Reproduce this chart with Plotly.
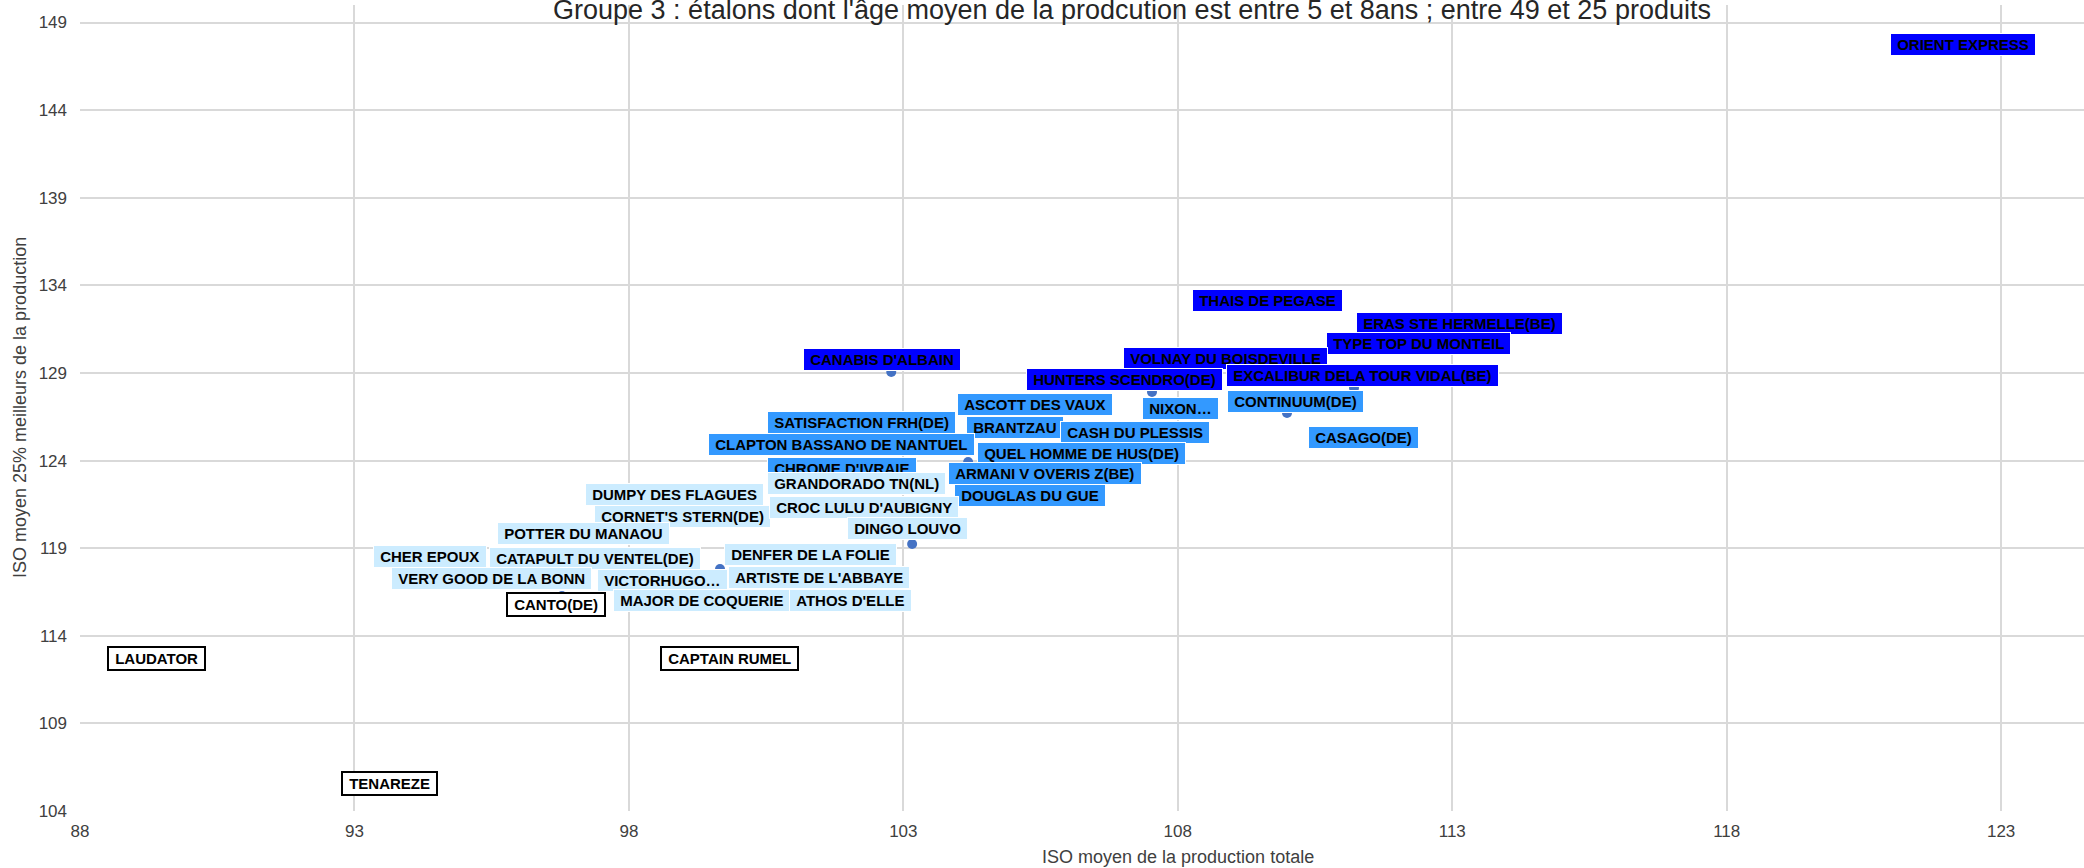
import plotly.graph_objects as go

# ---------------- data ----------------
names = [
    "ORIENT EXPRESS", "THAIS DE PEGASE", "ERAS STE HERMELLE(BE)", "TYPE TOP DU MONTEIL",
    "VOLNAY DU BOISDEVILLE", "CANABIS D'ALBAIN", "HUNTERS SCENDRO(DE)", "EXCALIBUR DELA TOUR VIDAL(BE)",
    "ASCOTT DES VAUX", "NIXON…", "CONTINUUM(DE)", "SATISFACTION FRH(DE)", "BRANTZAU",
    "CASH DU PLESSIS", "CASAGO(DE)", "CLAPTON BASSANO DE NANTUEL", "QUEL HOMME DE HUS(DE)",
    "CHROME D'IVRAIE", "ARMANI V OVERIS Z(BE)", "DOUGLAS DU GUE",
    "DUMPY DES FLAGUES", "GRANDORADO TN(NL)", "CORNET'S STERN(DE)", "CROC LULU D'AUBIGNY",
    "POTTER DU MANAOU", "DINGO LOUVO", "CHER EPOUX", "CATAPULT DU VENTEL(DE)",
    "DENFER DE LA FOLIE", "VERY GOOD DE LA BONN", "VICTORHUGO…", "ARTISTE DE L'ABBAYE",
    "MAJOR DE COQUERIE", "ATHOS D'ELLE",
    "CANTO(DE)", "LAUDATOR", "CAPTAIN RUMEL", "TENAREZE",
]
iso_total = [
    122.30, 109.63, 113.14, 112.38, 108.87, 102.78, 107.53, 111.21,
    105.39, 108.04, 109.99, 102.23, 105.03, 107.22, 111.38, 101.88, 106.25,
    101.89, 104.18, 105.31,
    98.83, 102.14, 98.98, 102.28, 97.17, 103.16, 94.38, 97.38,
    101.30, 95.50, 99.66, 101.46, 99.33, 102.03,
    96.78, 89.40, 99.84, 93.63,
]
iso_top25 = [
    147.73, 133.16, 131.82, 130.68, 129.85, 129.05, 127.91, 128.14,
    127.20, 127.00, 126.71, 126.20, 125.89, 125.63, 125.34, 124.92, 124.40,
    123.55, 123.92, 121.98,
    122.09, 122.69, 120.81, 121.35, 119.81, 119.24, 118.53, 118.41,
    118.64, 117.27, 117.81, 117.33, 115.99, 116.02,
    116.27, 112.71, 112.68, 105.55,
]
groups = (["top"] * 8 + ["high"] * 12 + ["mid"] * 14 + ["low"] * 4)

x_ticks = [88, 93, 98, 103, 108, 113, 118, 123]
y_ticks = [104, 109, 114, 119, 124, 129, 134, 139, 144, 149]

title_text = ("Groupe 3 : étalons dont l'âge moyen de la prodcution est entre 5 et 8ans ; "
              "entre 49 et 25 produits")
x_title = "ISO moyen de la production totale"
y_title = "ISO moyen 25% meilleurs de la production"

# ---------------- styles ----------------
FONT = "Liberation Sans, Arial, sans-serif"
group_style = {
    "top": dict(bgcolor="#0000FF", bordercolor="#FFFFFF", borderwidth=1),
    "high": dict(bgcolor="#3399FF", bordercolor="#FFFFFF", borderwidth=1),
    "mid": dict(bgcolor="#CCECFF", bordercolor="#FFFFFF", borderwidth=1),
    "low": dict(bgcolor="#FFFFFF", bordercolor="#000000", borderwidth=2),
}
# pixel offsets of data labels that were moved away from their point
label_offsets = {
    "CANABIS D'ALBAIN": (-9, 13),
    "HUNTERS SCENDRO(DE)": (-28, 13),
    "EXCALIBUR DELA TOUR VIDAL(BE)": (8, 12.5),
    "CONTINUUM(DE)": (8, 11.5),
    "ARMANI V OVERIS Z(BE)": (76.5, -11.5),
    "DINGO LOUVO": (-5, 15),
    "VICTORHUGO…": (-58, -11),
    "CANTO(DE)": (-5.5, -8),
}

L, R, T, B = 80, 0, 5, 57
W, H = 2084, 868
pw, ph = W - L - R, H - T - B

fig = go.Figure()
fig.add_trace(go.Scatter(
    x=iso_total, y=iso_top25, mode="markers", text=names,
    hovertemplate="%{text}<br>%{x}, %{y}<extra></extra>",
    marker=dict(color="#4472C4", size=10),
    showlegend=False,
))

annotations = []
for n, xv, yv, g in zip(names, iso_total, iso_top25, groups):
    dx, dy = label_offsets.get(n, (0, 0))
    annotations.append(dict(
        x=xv, y=yv, xref="x", yref="y", text="\u00a0" + n + "\u00a0",
        showarrow=False, xanchor="center", yanchor="middle",
        xshift=dx, yshift=dy, borderpad=2,
        font=dict(family=FONT, size=15, color="#000000", weight="bold"),
        **group_style[g],
    ))

# axis titles
annotations.append(dict(
    x=(1178 - L) / pw, y=(H - B - 857) / ph, xref="paper", yref="paper",
    text=x_title, showarrow=False, xanchor="center", yanchor="middle",
    font=dict(family=FONT, size=18, color="#404040"),
))
annotations.append(dict(
    x=0, y=0.5, xref="paper", yref="paper", text=y_title, showarrow=False,
    textangle=-90, xanchor="center", yanchor="middle", xshift=-60,
    font=dict(family=FONT, size=18, color="#404040"),
))

fig.update_layout(
    width=W, height=H, autosize=False,
    margin=dict(l=L, r=R, t=T, b=B, pad=0),
    paper_bgcolor="#FFFFFF", plot_bgcolor="#FFFFFF",
    title=dict(text=title_text, x=1132 / W, xanchor="center", xref="container",
               y=1, yanchor="top", yref="container",
               font=dict(family=FONT, size=27, color="#262626")),
    annotations=annotations,
    xaxis=dict(range=[88, 88 + pw / 54.89], tickvals=x_ticks,
               showgrid=True, gridcolor="#D9D9D9", gridwidth=1.5,
               zeroline=False, showline=False, ticks="",
               tickfont=dict(family=FONT, size=17, color="#404040"),
               ticklabelstandoff=8),
    yaxis=dict(range=[104, 150], tickvals=y_ticks,
               showgrid=True, gridcolor="#D9D9D9", gridwidth=1.5,
               zeroline=False, showline=False, ticks="",
               tickfont=dict(family=FONT, size=17, color="#404040"),
               ticklabelstandoff=12),
    font=dict(family=FONT),
)

fig.write_html("out.html", config={"displayModeBar": False},
               post_script="document.body.style.margin='0';")
